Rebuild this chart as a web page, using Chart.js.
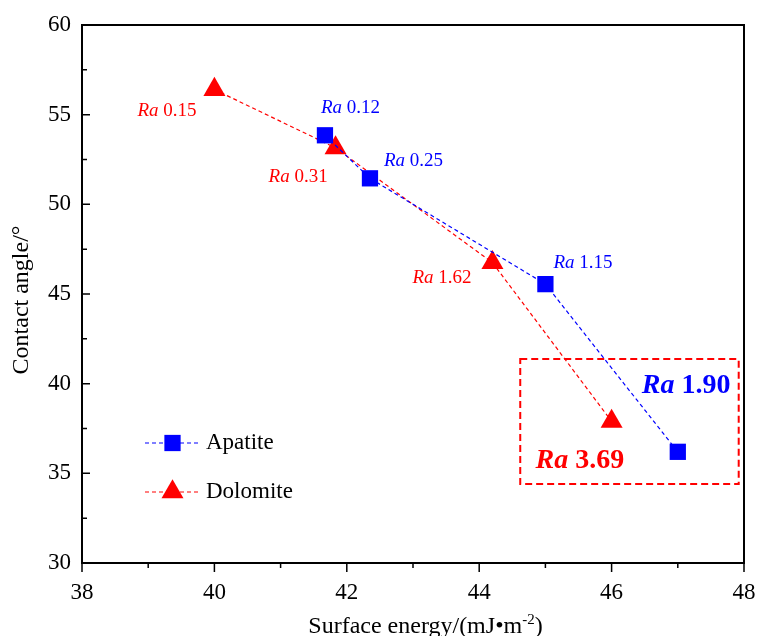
<!DOCTYPE html>
<html>
<head>
<meta charset="utf-8">
<script src="https://cdn.jsdelivr.net/npm/chart.js@4/dist/chart.umd.min.js"></script>
<style>html,body{margin:0;padding:0;background:#fff}</style>
</head>
<body>
<canvas id="chart" width="757" height="636"></canvas>
<script>
// values
const apatiteEnergy = [41.67, 42.35, 45.0, 47.0];
const apatiteAngle = [53.85, 51.45, 45.55, 36.2];
const apatiteRa = ["0.12", "0.25", "1.15", "1.90"];
const dolomiteEnergy = [40.0, 41.83, 44.2, 46.0];
const dolomiteAngle = [56.4, 53.15, 46.75, 37.9];
const dolomiteRa = ["0.15", "0.31", "1.62", "3.69"];
const xTicks = [38, 40, 42, 44, 46, 48];
const yTicks = [30, 35, 40, 45, 50, 55, 60];
// dashed box round the last two points, in data units
const boxX = [44.62, 47.92];
const boxY = [34.4, 41.37];

// label placement (pixel offset from the point) and whether it is the big bold one
const apatiteLabelPos = [[-4, -22, false], [14, -12, false], [8, -16, false], [-36, -59, true]];
const dolomiteLabelPos = [[-77, 26, false], [-67, 34, false], [-80, 20, false], [-76, 47, true]];

const BLUE = "#0000ff";
const RED = "#ff0000";
const FONT = "Liberation Serif";

function toPoints(xs, ys) {
    return xs.map((x, i) => ({ x: x, y: ys[i] }));
}

const decorPlugin = {
    id: "decor",
    afterDraw(chart) {
        const ctx = chart.ctx;
        const xs = chart.scales.x, ys = chart.scales.y;
        const a = chart.chartArea;
        ctx.save();

        // frame
        ctx.strokeStyle = "#000";
        ctx.lineWidth = 2;
        ctx.setLineDash([]);
        ctx.strokeRect(a.left, a.top, a.right - a.left, a.bottom - a.top);

        // y ticks, pointing in
        ctx.lineWidth = 1.5;
        ctx.beginPath();
        for (let i = 0; i < yTicks.length; i++) {
            const py = ys.getPixelForValue(yTicks[i]);
            ctx.moveTo(a.left, py); ctx.lineTo(a.left + 8, py);
            if (i < yTicks.length - 1) {
                const my = ys.getPixelForValue((yTicks[i] + yTicks[i + 1]) / 2);
                ctx.moveTo(a.left, my); ctx.lineTo(a.left + 5, my);
            }
        }
        // x ticks, pointing out
        for (let i = 0; i < xTicks.length; i++) {
            const px = xs.getPixelForValue(xTicks[i]);
            ctx.moveTo(px, a.bottom); ctx.lineTo(px, a.bottom + 9);
            if (i < xTicks.length - 1) {
                const mx = xs.getPixelForValue((xTicks[i] + xTicks[i + 1]) / 2);
                ctx.moveTo(mx, a.bottom); ctx.lineTo(mx, a.bottom + 5);
            }
        }
        ctx.stroke();

        // axis titles
        ctx.fillStyle = "#000";
        ctx.textBaseline = "alphabetic";
        ctx.textAlign = "left";
        const f = "24px '" + FONT + "'";
        const fs = "15px '" + FONT + "'";
        ctx.font = f;
        const t1 = "Surface energy/(mJ•m", t3 = ")";
        const w1 = ctx.measureText(t1).width, w3 = ctx.measureText(t3).width;
        ctx.font = fs;
        const w2 = ctx.measureText("-2").width;
        let tx = 425.5 - (w1 + w2 + w3) / 2;
        const ty = 633;
        ctx.font = f;
        ctx.fillText(t1, tx, ty);
        ctx.font = fs;
        ctx.fillText("-2", tx + w1, ty - 9);
        ctx.font = f;
        ctx.fillText(t3, tx + w1 + w2, ty);

        ctx.save();
        ctx.translate(28, 300);
        ctx.rotate(-Math.PI / 2);
        ctx.textAlign = "center";
        ctx.font = f;
        ctx.fillText("Contact angle/°", 0, 0);
        ctx.restore();

        // dashed box
        ctx.strokeStyle = RED;
        ctx.lineWidth = 2;
        ctx.setLineDash([7, 4]);
        const bx0 = xs.getPixelForValue(boxX[0]), bx1 = xs.getPixelForValue(boxX[1]);
        const by0 = ys.getPixelForValue(boxY[1]), by1 = ys.getPixelForValue(boxY[0]);
        ctx.strokeRect(bx0, by0, bx1 - bx0, by1 - by0);
        ctx.setLineDash([]);

        // Ra labels
        function drawLabels(ex, ey, ra, pos, color) {
            ctx.fillStyle = color;
            ctx.textBaseline = "alphabetic";
            ctx.textAlign = "left";
            for (let i = 0; i < ra.length; i++) {
                const px = xs.getPixelForValue(ex[i]) + pos[i][0];
                const py = ys.getPixelForValue(ey[i]) + pos[i][1];
                const big = pos[i][2];
                const size = big ? 28 : 19;
                const w = big ? "bold " : "";
                ctx.font = "italic " + w + size + "px '" + FONT + "'";
                ctx.fillText("Ra", px, py);
                const rw = ctx.measureText("Ra").width;
                ctx.font = w + size + "px '" + FONT + "'";
                ctx.fillText(" " + ra[i], px + rw, py);
            }
        }
        drawLabels(apatiteEnergy, apatiteAngle, apatiteRa, apatiteLabelPos, BLUE);
        drawLabels(dolomiteEnergy, dolomiteAngle, dolomiteRa, dolomiteLabelPos, RED);

        // legend
        const items = [
            { text: "Apatite", color: BLUE, style: "rect", r: 11.5, y: 443 },
            { text: "Dolomite", color: RED, style: "triangle", r: 12.7, y: 492 }
        ];
        items.forEach(it => {
            ctx.strokeStyle = it.color;
            ctx.lineWidth = 1.2;
            ctx.setLineDash([4, 3]);
            ctx.beginPath();
            ctx.moveTo(145, it.y); ctx.lineTo(200, it.y);
            ctx.stroke();
            ctx.setLineDash([]);
            ctx.fillStyle = it.color;
            Chart.helpers.drawPoint(ctx, { pointStyle: it.style, radius: it.r, borderWidth: 0, rotation: 0 }, 172.5, it.y);
            ctx.fillStyle = "#000";
            ctx.font = "23px '" + FONT + "'";
            ctx.textBaseline = "middle";
            ctx.fillText(it.text, 206, it.y);
        });

        ctx.restore();
    }
};

const tickFont = { family: FONT, size: 23 };

new Chart(document.getElementById("chart").getContext("2d"), {
    type: "scatter",
    data: {
        datasets: [
            {
                label: "Apatite",
                data: toPoints(apatiteEnergy, apatiteAngle),
                showLine: true,
                borderColor: BLUE,
                borderWidth: 1.2,
                borderDash: [4, 3],
                backgroundColor: BLUE,
                pointStyle: "rect",
                pointRadius: 11.5,
                pointBorderWidth: 0
            },
            {
                label: "Dolomite",
                data: toPoints(dolomiteEnergy, dolomiteAngle),
                showLine: true,
                borderColor: RED,
                borderWidth: 1.2,
                borderDash: [4, 3],
                backgroundColor: RED,
                pointStyle: "triangle",
                pointRadius: 12.7,
                pointBorderWidth: 0
            }
        ]
    },
    options: {
        responsive: false,
        animation: false,
        layout: { padding: { top: 25, right: 13, left: 0, bottom: 0 } },
        plugins: { legend: { display: false }, tooltip: { enabled: false } },
        scales: {
            x: {
                type: "linear",
                min: 38, max: 48,
                afterBuildTicks(s) { s.ticks = xTicks.map(v => ({ value: v })); },
                ticks: { font: tickFont, color: "#000", padding: 16, maxRotation: 0, autoSkip: false },
                grid: { display: false, drawTicks: false },
                border: { display: false },
                afterFit(s) { s.height = 73; s.paddingLeft = 0; s.paddingRight = 0; }
            },
            y: {
                type: "linear",
                min: 30, max: 60,
                afterBuildTicks(s) { s.ticks = yTicks.map(v => ({ value: v })); },
                ticks: { font: tickFont, color: "#000", padding: 11, autoSkip: false },
                grid: { display: false, drawTicks: false },
                border: { display: false },
                afterFit(s) { s.width = 82; s.paddingTop = 0; s.paddingBottom = 0; }
            }
        }
    },
    plugins: [decorPlugin]
});
</script>
</body>
</html>
